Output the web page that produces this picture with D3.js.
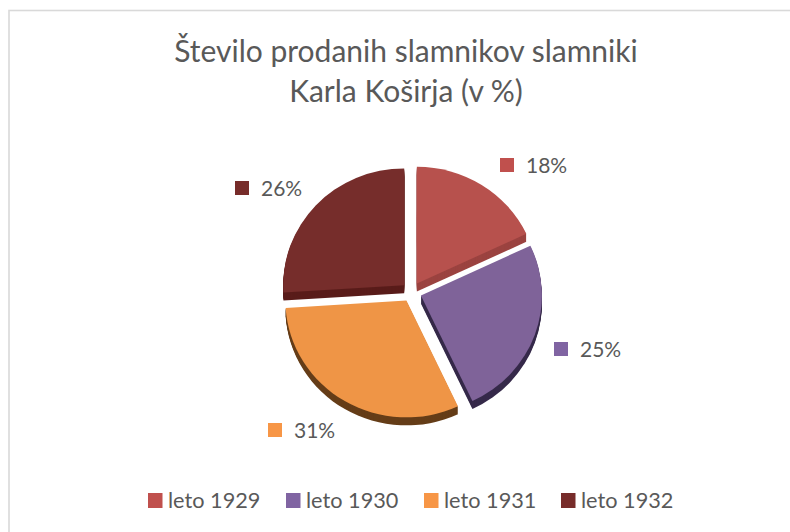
<!DOCTYPE html>
<html><head><meta charset="utf-8">
<script src="https://cdn.jsdelivr.net/npm/d3@7"></script>
<style>html,body{margin:0;padding:0;background:#fff}svg{display:block}text{font-family:Lato,"Open Sans",sans-serif;fill:#595959}</style>
</head><body><svg id="c" width="790" height="532"></svg>
<script>
const titleLines = ["Število prodanih slamnikov slamniki", "Karla Koširja (v %)"];
const categories = ["leto 1929", "leto 1930", "leto 1931", "leto 1932"];
const values = [18, 25, 31, 26];
const topColors = ["#b7514d", "#7f6399", "#ef9546", "#762d2b"];
const sideColors = ["#9b4340", "#362a4a", "#653d18", "#591c1a"];
const legendColors = ["#c0504d", "#8064a2", "#f79646", "#772c2a"];
const labelAnchors = [[500,158],[554,342],[268,423],[235,181]];

const svg = d3.select("#c");
svg.append("rect").attr("x",9).attr("y",10.5).attr("width",800).attr("height",540)
  .attr("fill","#fff").attr("stroke","#d9d9d9").attr("stroke-width",1.6);

svg.selectAll("text.title").data(titleLines).join("text").attr("class","title")
  .attr("x",406).attr("y",(d,i)=>62+i*40).attr("text-anchor","middle")
  .attr("font-size",30).text(d=>d);

const cx=411.5, cy=292, rx=121, squash=0.965, explode=10, depth=8;
const pie = d3.pie().sort(null).value(d=>d);
const arc = d3.arc().innerRadius(0).outerRadius(rx);
const arcs = pie(values);
const order = [3,0,2,1];
order.forEach(i=>{
  const a = arcs[i], mid=(a.startAngle+a.endAngle)/2;
  const g = svg.append("g").attr("transform",`translate(${cx+explode*Math.sin(mid)},${cy-explode*Math.cos(mid)})`);
  d3.range(depth,0,-1).forEach(k=>{
    g.append("path").attr("d",arc(a)).attr("fill",sideColors[i])
      .attr("transform",`translate(0,${k}) scale(1,${squash})`);
  });
  g.append("path").attr("d",arc(a)).attr("fill",topColors[i]).attr("transform",`scale(1,${squash})`);
});

const lab = svg.selectAll("g.lab").data(values).join("g").attr("class","lab")
  .attr("transform",(d,i)=>`translate(${labelAnchors[i][0]},${labelAnchors[i][1]})`);
lab.append("rect").attr("width",14).attr("height",14).attr("fill",(d,i)=>legendColors[i]);
lab.append("text").attr("x",26).attr("y",15).attr("font-size",21).text(d=>d+"%");

const legendX = d3.scaleOrdinal().domain(categories).range([148,286,424,561]);
const leg = svg.selectAll("g.leg").data(categories).join("g").attr("class","leg")
  .attr("transform",d=>`translate(${legendX(d)},493)`);
leg.append("rect").attr("width",14.5).attr("height",15).attr("fill",(d,i)=>legendColors[i]);
leg.append("text").attr("x",20).attr("y",15).attr("font-size",21.7).text(d=>d);
</script></body></html>
